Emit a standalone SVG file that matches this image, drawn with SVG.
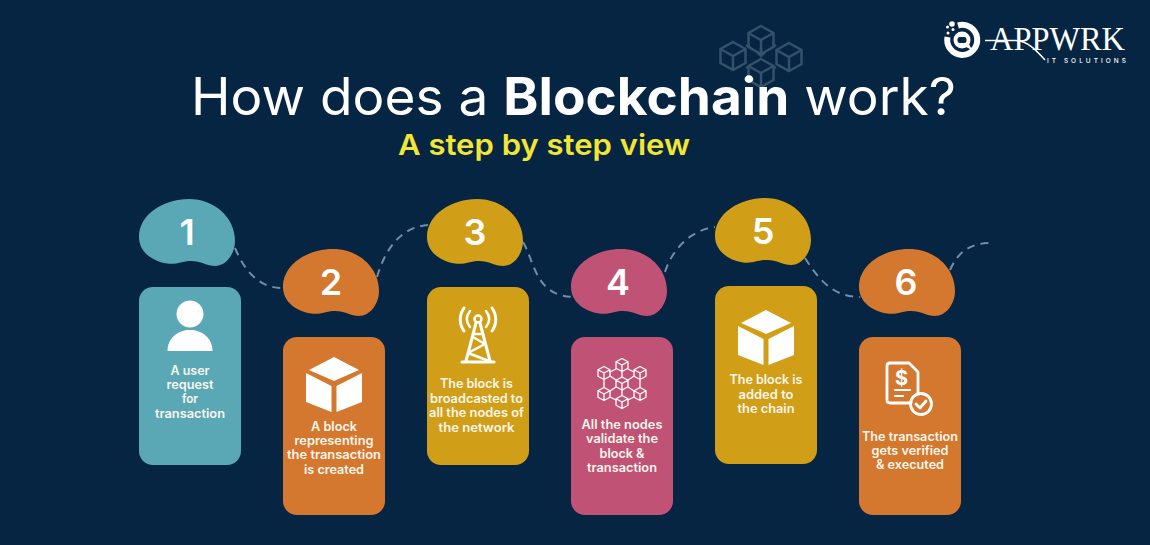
<svg xmlns="http://www.w3.org/2000/svg" xmlns:xlink="http://www.w3.org/1999/xlink" width="1150" height="545" viewBox="0 0 1150 545">
<style>
text{font-family:Inter,"Open Sans","Liberation Sans",sans-serif;fill:#fff}
.t{font-size:12.5px;font-weight:600;text-anchor:middle;fill:#fbf6ec}
.n{font-size:36px;font-weight:600;text-anchor:middle}
.teal{fill:#5aa8b6}.orange{fill:#d4782f}.gold{fill:#d19f17}.pink{fill:#c05275}
.dash{fill:none;stroke:#6f8fa8;stroke-width:2;stroke-dasharray:8 6}
.ln{fill:none;stroke:#fff;stroke-linecap:round;stroke-linejoin:round}
</style>
<defs>
<path id="blob" d="M0,38C0,15 25,0 50,0C75,0 96,18 96,42C96,55 87,67 76,67C68,67 62,62 52,62C42,62 38,66 28,64.500C12,62 0,52 0,38Z"/>
<g id="cube"><path fill="#fff" d="M0,0L25,13L0,24L-25,13Z"/><path fill="#fff" d="M-28,16L-2.500,29V55L-28,45Z"/><path fill="#fff" d="M2.500,29L28,16V45L2.500,55Z"/></g>
<g id="mc"><path d="M0,-6.500L6,-3.200V3.200L0,6.500L-6,3.200V-3.200ZM-6,-3.200L0,0L6,-3.200M0,0V6.500"/></g>
<g id="bc"><path d="M0,-14L12.500,-7V7L0,14L-12.500,7V-7ZM-12.500,-7L0,0L12.500,-7M0,0V14"/></g>
</defs>
<rect width="1150" height="545" fill="#052542"/>
<g id="watermark" fill="none" stroke="#34506a" stroke-width="2.500">
<use xlink:href="#bc" x="761" y="40"/><use xlink:href="#bc" x="733" y="56"/><use xlink:href="#bc" x="789" y="57"/><use xlink:href="#bc" x="761" y="73"/>
<path d="M746,45L751,48M776,45L771,48M746,68L751,65M776,68L771,65M761,48V55M757,52L761,56L765,52"/>
</g>
<g id="title">
<text x="191" y="115" font-size="52" font-weight="400" textLength="765" lengthAdjust="spacingAndGlyphs">How does a <tspan font-weight="700">Blockchain</tspan> work?</text>
<text x="398" y="155" font-size="29" font-weight="600" style="fill:#f2e533" textLength="292" lengthAdjust="spacingAndGlyphs">A step by step view</text>
</g>
<g id="logo">
<path d="M958,25.500A15,15 0 1 1 947.500,37" fill="none" stroke="#fff" stroke-width="6"/>
<circle cx="962" cy="40" r="8.500" fill="#fff"/><rect x="957.500" y="37" width="9" height="6" rx="2.500" fill="#052542"/>
<path d="M966,47L972,50L969,44Z" fill="#fff"/>
<circle cx="952" cy="24" r="2.800" fill="#fff"/><circle cx="947.500" cy="27" r="1.500" fill="#fff"/><circle cx="953" cy="29.500" r="1.500" fill="#fff"/><circle cx="948" cy="33" r="1.500" fill="#fff"/>
<text x="990" y="50" font-size="33" style="font-family:'Liberation Serif',serif" textLength="135" lengthAdjust="spacingAndGlyphs">APPWRK</text>
<path d="M985,40.500H1015C1028,41 1036,50 1045,60" fill="none" stroke="#fff" stroke-width="1.500"/>
<text x="1047" y="63" font-size="6.500" font-weight="500" textLength="79">IT SOLUTIONS</text>
</g>
<g id="connectors">
<path class="dash" d="M235,248C245,272 260,288 282,288"/>
<path class="dash" d="M377,277C385,250 400,227 428,225"/>
<path class="dash" d="M523,242C535,262 535,297 575,297"/>
<path class="dash" d="M665,272C672,250 690,230 715,227"/>
<path class="dash" d="M805,258C820,282 835,297 860,297"/>
<path class="dash" d="M950,270C958,252 970,243 991,243"/>
</g>
<g id="node1">
<use xlink:href="#blob" x="139" y="199" class="teal"/><rect x="139" y="287" width="102" height="178" rx="14" class="teal"/>
<text class="n" x="187" y="245">1</text>
<circle cx="190" cy="314" r="13.500" fill="#fff"/><path d="M167.500,351C167.500,338 178,330 190,330S212.500,338 212.500,351Z" fill="#fff"/>
<text class="t" x="190" y="375" textLength="39" lengthAdjust="spacingAndGlyphs">A user</text>
<text class="t" x="190" y="389" textLength="47" lengthAdjust="spacingAndGlyphs">request</text>
<text class="t" x="190" y="403" textLength="16" lengthAdjust="spacingAndGlyphs">for</text>
<text class="t" x="190" y="418" textLength="70" lengthAdjust="spacingAndGlyphs">transaction</text>
</g>
<g id="node2">
<use xlink:href="#blob" x="283" y="249" class="orange"/><rect x="283" y="337" width="102" height="178" rx="14" class="orange"/>
<text class="n" x="331" y="295">2</text>
<use xlink:href="#cube" x="334" y="357"/>
<text class="t" x="334" y="431" textLength="46" lengthAdjust="spacingAndGlyphs">A block</text>
<text class="t" x="334" y="445" textLength="79" lengthAdjust="spacingAndGlyphs">representing</text>
<text class="t" x="334" y="459" textLength="94" lengthAdjust="spacingAndGlyphs">the transaction</text>
<text class="t" x="334" y="474" textLength="60" lengthAdjust="spacingAndGlyphs">is created</text>
</g>
<g id="node3">
<use xlink:href="#blob" x="427" y="199" class="gold"/><rect x="427" y="287" width="102" height="178" rx="14" class="gold"/>
<text class="n" x="475" y="245">3</text>
<g class="ln" stroke-width="2.500">
<circle cx="478" cy="319" r="3.500"/><path d="M476,323L466,361M480,323L490,361M462,362H494" stroke-width="3"/><path d="M473,337L485,344L468,353L489,361M473,334H483"/>
<path d="M470,311C466,316 466,322 470,327M486,327C490,322 490,316 486,311"/><path d="M464,308C459,315 459,324 464,331M492,308C497,315 497,324 492,331" stroke-width="3"/>
</g>
<text class="t" x="476.500" y="388" textLength="73" lengthAdjust="spacingAndGlyphs">The block is</text>
<text class="t" x="476.500" y="403" textLength="93" lengthAdjust="spacingAndGlyphs">broadcasted to</text>
<text class="t" x="476.500" y="417" textLength="95" lengthAdjust="spacingAndGlyphs">all the nodes of</text>
<text class="t" x="476.500" y="432" textLength="76" lengthAdjust="spacingAndGlyphs">the network</text>
</g>
<g id="node4">
<use xlink:href="#blob" x="571" y="249" class="pink"/><rect x="571" y="337" width="102" height="178" rx="14" class="pink"/>
<text class="n" x="618" y="295">4</text>
<g class="ln" stroke-width="1.300">
<use xlink:href="#mc" x="622" y="365"/><use xlink:href="#mc" x="604" y="373"/><use xlink:href="#mc" x="640" y="373"/><use xlink:href="#mc" x="622" y="383.500"/><use xlink:href="#mc" x="604" y="394"/><use xlink:href="#mc" x="640" y="394"/><use xlink:href="#mc" x="622" y="402"/>
<path d="M628,369L634,372M616,369L610,372M604,380V387M640,380V387M610,397L616,400M634,397L628,400M610,376L616,380M634,376L628,380M610,391L616,387M634,391L628,387M622,371.500V377M622,390V395.500"/>
</g>
<text class="t" x="622" y="429" textLength="81" lengthAdjust="spacingAndGlyphs">All the nodes</text>
<text class="t" x="622" y="443" textLength="72" lengthAdjust="spacingAndGlyphs">validate the</text>
<text class="t" x="622" y="458" textLength="45" lengthAdjust="spacingAndGlyphs">block &amp;</text>
<text class="t" x="622" y="472" textLength="70" lengthAdjust="spacingAndGlyphs">transaction</text>
</g>
<g id="node5">
<use xlink:href="#blob" x="715" y="198" class="gold"/><rect x="715" y="286" width="102" height="178" rx="14" class="gold"/>
<text class="n" x="763" y="244">5</text>
<use xlink:href="#cube" x="766" y="310"/>
<text class="t" x="766" y="384" textLength="73" lengthAdjust="spacingAndGlyphs">The block is</text>
<text class="t" x="766" y="399" textLength="55" lengthAdjust="spacingAndGlyphs">added to</text>
<text class="t" x="766" y="413" textLength="57" lengthAdjust="spacingAndGlyphs">the chain</text>
</g>
<g id="node6">
<use xlink:href="#blob" x="859" y="249" class="orange"/><rect x="859" y="337" width="102" height="178" rx="14" class="orange"/>
<text class="n" x="906" y="295">6</text>
<g class="ln" stroke-width="2.800">
<path d="M911,403H890Q887,403 887,400V366Q887,363 890,363H909L918,372V392"/>
<path d="M895,390H910M895,396H903" stroke-width="2.200"/>
<circle cx="921" cy="404" r="10.500"/><path d="M916,404L920,408L926,401"/>
</g>
<text x="901.500" y="385" font-size="20" font-weight="700" text-anchor="middle">$</text>
<text class="t" x="910" y="441" textLength="96" lengthAdjust="spacingAndGlyphs">The transaction</text>
<text class="t" x="910" y="455" textLength="77" lengthAdjust="spacingAndGlyphs">gets verified</text>
<text class="t" x="910" y="469" textLength="68" lengthAdjust="spacingAndGlyphs">&amp; executed</text>
</g>
</svg>
